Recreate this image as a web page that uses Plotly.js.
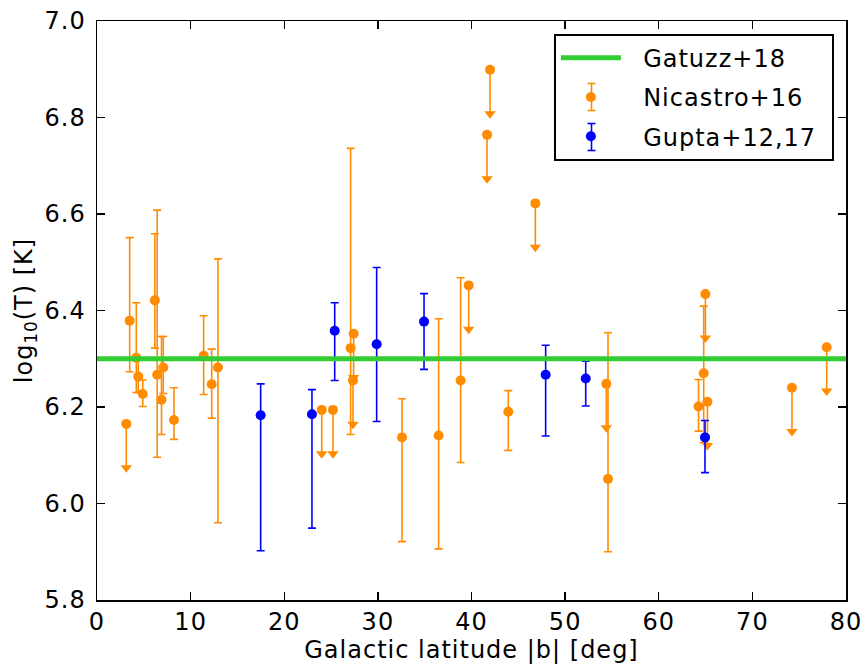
<!DOCTYPE html>
<html>
<head>
<meta charset="utf-8">
<script src="https://cdn.plot.ly/plotly-3.0.1.min.js"></script>
<style>
html,body{margin:0;padding:0;background:#fff;}
#chart .xtick text, #chart .ytick text, #chart .g-xtitle text, #chart .g-ytitle text, #chart .legendtext { letter-spacing: 1px; }
</style>
</head>
<body>
<div id="chart" style="width:864px;height:665px;"></div>
<script>
// Gatuzz+18 reference temperature
const gatuzzX = [0, 80];
const gatuzzY = [6.3, 6.3];

// Nicastro+16 measurements (value, upper end, lower end of error bar)
const nicX  = [3.49, 4.20, 4.41, 4.89, 6.18, 6.43, 6.89, 7.08, 8.22, 11.39, 12.25, 12.92, 27.09, 32.58, 36.49, 38.84, 43.93, 54.58, 64.25, 64.80];
const nicY  = [6.379, 6.302, 6.263, 6.227, 6.421, 6.267, 6.215, 6.282, 6.173, 6.306, 6.247, 6.282, 6.322, 6.137, 6.141, 6.255, 6.190, 6.051, 6.201, 6.270];
const nicHi = [6.551, 6.416, 6.300, 6.256, 6.559, 6.608, 6.346, 6.346, 6.240, 6.389, 6.320, 6.507, 6.736, 6.217, 6.383, 6.468, 6.234, 6.354, 6.257, 6.409];
const nicLo = [6.273, 6.230, 6.230, 6.201, 6.322, 6.096, 6.143, 6.228, 6.133, 6.226, 6.177, 5.960, 6.143, 5.921, 5.906, 6.085, 6.110, 5.900, 6.150, 6.126];

// Nicastro+16 upper limits
const nicLimX = [3.13, 24.00, 25.20, 27.41, 27.34, 39.70, 41.66, 41.98, 46.82, 54.40, 64.98, 65.20, 74.23, 77.94];
const nicLimY = [6.165, 6.194, 6.194, 6.352, 6.255, 6.452, 6.764, 6.899, 6.622, 6.248, 6.434, 6.211, 6.240, 6.324];

// Gupta+12,17 measurements
const gupX  = [17.48, 22.96, 25.39, 29.87, 34.93, 47.92, 52.20, 64.94];
const gupY  = [6.183, 6.185, 6.358, 6.330, 6.377, 6.267, 6.259, 6.137];
const gupHi = [6.248, 6.236, 6.416, 6.489, 6.435, 6.328, 6.295, 6.172];
const gupLo = [5.902, 5.949, 6.255, 6.170, 6.278, 6.140, 6.202, 6.064];

const seriesNames = ['Gatuzz+18', 'Nicastro+16', 'Gupta+12,17'];

const LIMIT_LEN = 0.091; // length of upper-limit arrows (dex)

const ORANGE = '#ff8c00';
const BLUE = '#0000ff';
const GREEN = '#32cd32';
const FONT = 'DejaVu Sans, sans-serif';
const PAD = '\u00a0\u00a0';
const TAIL = '\u00a0\u00a0\u00a0';

const plus = (hi, y) => hi.map((h, i) => h - y[i]);
const minus = (lo, y) => lo.map((l, i) => y[i] - l);

const traces = [
  {
    x: nicLimX, y: nicLimY, type: 'scatter', mode: 'markers',
    name: 'limits', showlegend: false, legendgroup: 'nic',
    marker: {color: ORANGE, size: 10},
    error_y: {type: 'data', symmetric: false, array: nicLimY.map(() => 0),
              arrayminus: nicLimY.map(() => LIMIT_LEN), color: ORANGE, thickness: 1.6, width: 0}
  },
  {
    x: nicLimX, y: nicLimY.map(v => v - LIMIT_LEN), type: 'scatter', mode: 'markers',
    name: 'arrow', showlegend: false, legendgroup: 'nic', hoverinfo: 'skip',
    marker: {color: ORANGE, size: 10, symbol: 'triangle-down'}
  },
  {
    x: nicX, y: nicY, type: 'scatter', mode: 'markers',
    name: PAD + seriesNames[1] + TAIL, legendgroup: 'nic', legendrank: 2,
    marker: {color: ORANGE, size: 10},
    error_y: {type: 'data', symmetric: false, array: plus(nicHi, nicY),
              arrayminus: minus(nicLo, nicY), color: ORANGE, thickness: 1.6, width: 4}
  },
  {
    x: gupX, y: gupY, type: 'scatter', mode: 'markers',
    name: PAD + seriesNames[2] + TAIL, legendgroup: 'gup', legendrank: 3,
    marker: {color: BLUE, size: 10},
    error_y: {type: 'data', symmetric: false, array: plus(gupHi, gupY),
              arrayminus: minus(gupLo, gupY), color: BLUE, thickness: 1.6, width: 4}
  },
  {
    x: gatuzzX, y: gatuzzY, type: 'scatter', mode: 'lines',
    name: PAD + seriesNames[0] + TAIL, legendgroup: 'gat', legendrank: 1,
    line: {color: GREEN, width: 5}
  }
];

// Error-bar glyphs for the legend (decoration, paper coordinates)
const PLOT_L = 97, PLOT_T = 21, PLOT_W = 749, PLOT_H = 579;
const px2x = p => (p - PLOT_L) / PLOT_W;
const py2y = p => 1 - (p - PLOT_T) / PLOT_H;
function legendBar(cx, cy, color) {
  const half = 13.5, cap = 4;
  const base = {type: 'line', xref: 'paper', yref: 'paper', layer: 'above', line: {color: color, width: 1.6}};
  return [
    Object.assign({}, base, {x0: px2x(cx), x1: px2x(cx), y0: py2y(cy + half), y1: py2y(cy - half)}),
    Object.assign({}, base, {x0: px2x(cx - cap), x1: px2x(cx + cap), y0: py2y(cy - half), y1: py2y(cy - half)}),
    Object.assign({}, base, {x0: px2x(cx - cap), x1: px2x(cx + cap), y0: py2y(cy + half), y1: py2y(cy + half)})
  ];
}

const axisCommon = {
  showline: true, linecolor: '#000', linewidth: 1.5, mirror: 'ticks',
  ticks: 'inside', ticklen: 8, tickwidth: 1.3, tickcolor: '#000',
  showgrid: false, zeroline: false,
  tickfont: {family: FONT, size: 24, color: '#000'}
};

const layout = {
  width: 864, height: 665,
  margin: {l: 97, r: 18, t: 21, b: 65},
  paper_bgcolor: '#fff', plot_bgcolor: '#fff',
  font: {family: FONT, color: '#000'},
  xaxis: Object.assign({}, axisCommon, {
    range: [0, 80], dtick: 10, tick0: 0, ticklabelstandoff: 0,
    title: {text: 'Galactic latitude |b| [deg]', font: {family: FONT, size: 24, color: '#000'}, standoff: 2}
  }),
  yaxis: Object.assign({}, axisCommon, {
    range: [5.8, 7.0], dtick: 0.2, tick0: 5.8, tickformat: '.1f', ticklabelstandoff: 5,
    title: {text: 'log<sub>10</sub>(T) [K]', font: {family: FONT, size: 24, color: '#000'}, standoff: 8}
  }),
  shapes: [].concat(legendBar(591.5, 97, ORANGE), legendBar(591.5, 137, BLUE)),
  showlegend: true,
  legend: {
    x: 0.61, xanchor: 'left', y: 0.978, yanchor: 'top',
    bordercolor: '#000', borderwidth: 2, bgcolor: 'rgba(255,255,255,0)',
    font: {family: FONT, size: 24, color: '#000'},
    traceorder: 'grouped', tracegroupgap: 5, itemwidth: 60
  }
};

Plotly.newPlot('chart', traces, layout, {displayModeBar: false, staticPlot: true});
</script>
</body>
</html>
